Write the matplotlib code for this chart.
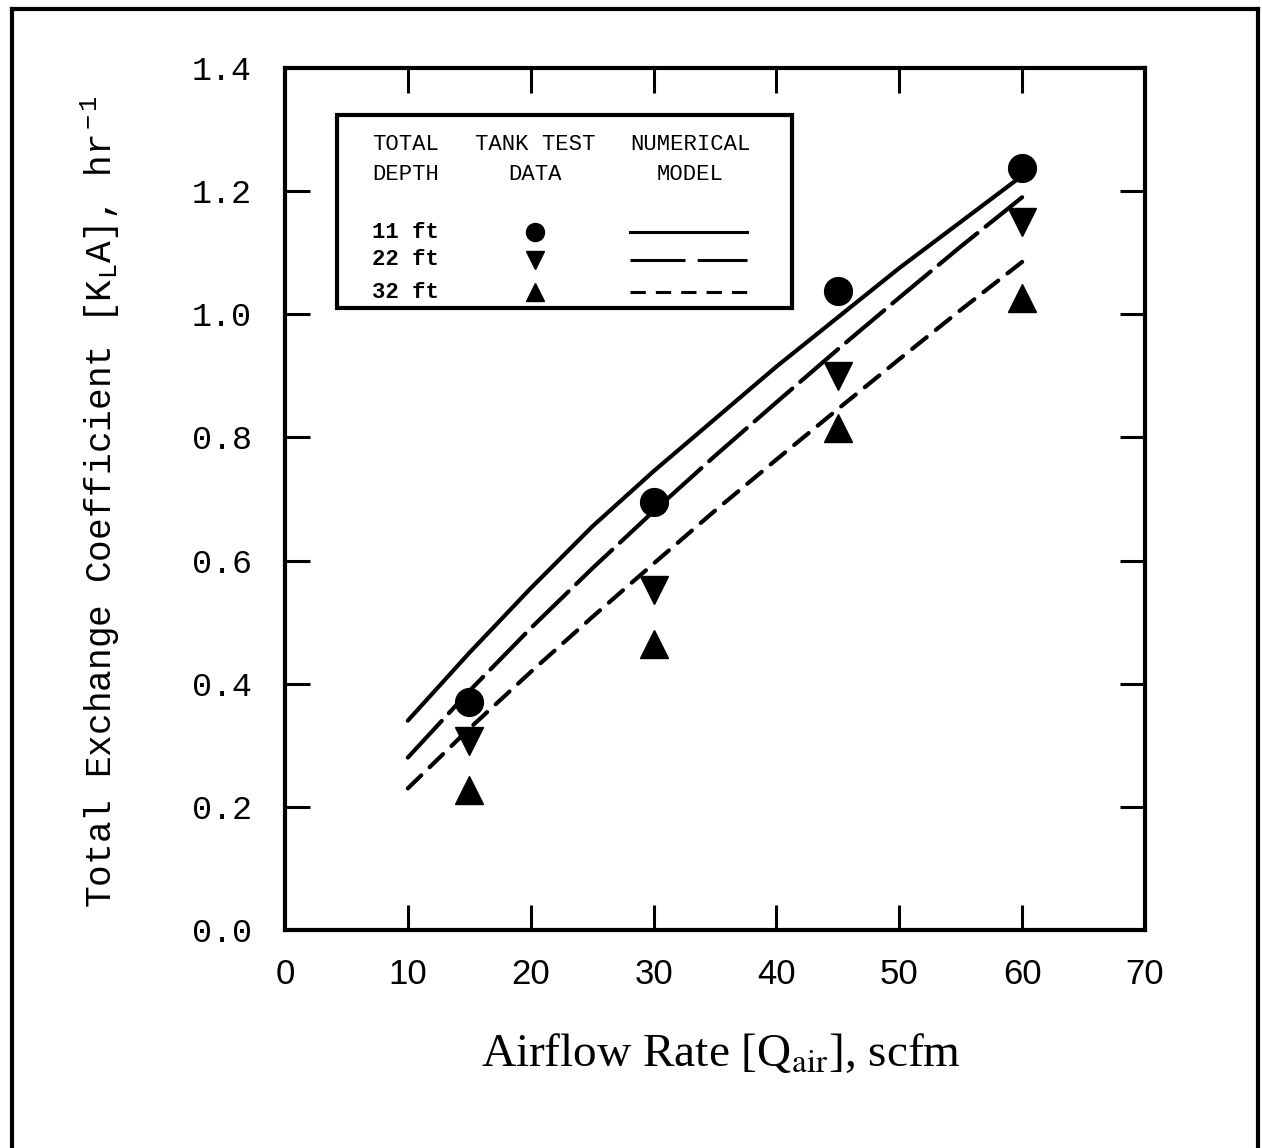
import matplotlib
matplotlib.use("Agg")
import matplotlib.pyplot as plt
from matplotlib.patches import Rectangle
from matplotlib.lines import Line2D

# test data (tank test), airflow in scfm
q_data = [15, 30, 45, 60]
kla_11ft = [0.37, 0.695, 1.038, 1.237]
kla_22ft = [0.307, 0.552, 0.900, 1.150]
kla_32ft = [0.227, 0.464, 0.815, 1.026]

# numerical model curves
q_model = [10, 15, 20, 25, 30, 35, 40, 45, 50, 55, 60]
model_11ft = [0.34, 0.45, 0.555, 0.655, 0.745, 0.83, 0.915, 0.995, 1.075, 1.15, 1.225]
model_22ft = [0.28, 0.388, 0.49, 0.587, 0.68, 0.77, 0.857, 0.943, 1.027, 1.11, 1.19]
model_32ft = [0.23, 0.327, 0.419, 0.508, 0.595, 0.681, 0.764, 0.846, 0.927, 1.007, 1.085]

depths = ["11 ft", "22 ft", "32 ft"]
x_ticks = [0, 10, 20, 30, 40, 50, 60, 70]
y_ticks = [0.0, 0.2, 0.4, 0.6, 0.8, 1.0, 1.2, 1.4]

plt.rcParams['mathtext.fontset'] = 'custom'
plt.rcParams['mathtext.rm'] = 'Liberation Mono'
plt.rcParams['mathtext.it'] = 'Liberation Mono'

fig = plt.figure(figsize=(12.62, 11.48), dpi=100)
ax = fig.add_axes([0.2258, 0.1899, 0.6815, 0.7509])

lw = 3.0
long_dash = (0, (12, 2.5))
short_dash = (0, (4.5, 2.8))

ax.plot(q_model, model_11ft, color='black', lw=lw, ls='-', solid_capstyle='round')
ax.plot(q_model, model_22ft, color='black', lw=lw, ls=long_dash, dash_capstyle='round')
ax.plot(q_model, model_32ft, color='black', lw=lw, ls=short_dash, dash_capstyle='round')

ax.plot(q_data, kla_11ft, 'o', color='black', ms=20, ls='none')
ax.plot(q_data, kla_22ft, 'v', color='black', ms=20, ls='none')
ax.plot(q_data, kla_32ft, '^', color='black', ms=20, ls='none')

ax.set_xlim(0, 70)
ax.set_ylim(0, 1.4)
ax.set_xticks(x_ticks)
ax.set_yticks(y_ticks)
ax.set_xticklabels([str(v) for v in x_ticks], family='Liberation Sans', fontsize=25)
ax.set_yticklabels(['%.1f' % v for v in y_ticks], family='Liberation Mono', fontsize=24)
ax.tick_params(direction='in', length=18, width=2.2, top=True, right=True)
ax.tick_params(axis='x', pad=20)
ax.tick_params(axis='y', pad=24)
# no tick marks at the corners
for t in ax.xaxis.get_major_ticks():
    if t.get_loc() in (0, 70):
        t.tick1line.set_visible(False)
        t.tick2line.set_visible(False)
for t in ax.yaxis.get_major_ticks():
    if t.get_loc() in (0.0, 1.4):
        t.tick1line.set_visible(False)
        t.tick2line.set_visible(False)
for s in ax.spines.values():
    s.set_linewidth(3)

ax.set_xlabel(r'Airflow Rate [Q$_{\rm air}$], scfm', family='Liberation Serif', fontsize=34,
              math_fontfamily='stix')
ax.xaxis.set_label_coords(0.507, -0.118)
ax.set_ylabel(r'Total Exchange Coefficient [K$_{\rm L}$A], hr$^{\rm -1}$', family='Liberation Mono', fontsize=26)
ax.yaxis.set_label_coords(-0.190, 0.497)

# legend table drawn by hand
tr = ax.transAxes
ax.add_patch(Rectangle((0.0605, 0.7216), 0.529, 0.2239, transform=tr, fill=False, lw=3, color='black'))
lf = dict(transform=tr, family='Liberation Mono', fontsize=16, va='center')
ax.text(0.101, 0.9107, 'TOTAL', **lf)
ax.text(0.101, 0.8759, 'DEPTH', **lf)
ax.text(0.2907, 0.9107, 'TANK TEST', ha='center', **lf)
ax.text(0.2907, 0.8759, 'DATA', ha='center', **lf)
ax.text(0.471, 0.9107, 'NUMERICAL', ha='center', **lf)
ax.text(0.471, 0.8759, 'MODEL', ha='center', **lf)
rows_y = [0.8097, 0.7773, 0.7401]
markers = ['o', 'v', '^']
styles = ['-', (0, (18, 4)), (0, (5, 3.3))]
for d, yy, m, st in zip(depths, rows_y, markers, styles):
    ax.text(0.101, yy, d, fontweight='bold', **lf)
    ax.plot([0.2907], [yy], m, color='black', ms=13, transform=tr)
    ax.add_line(Line2D([0.401, 0.537], [yy, yy], color='black', lw=2.2, ls=st, transform=tr))

# outer frame of the scanned figure
fig.add_artist(Line2D([0.0095, 0.0095], [0.0, 0.9922], color='black', lw=3, transform=fig.transFigure))
fig.add_artist(Line2D([0.0095, 0.9968], [0.9922, 0.9922], color='black', lw=3, transform=fig.transFigure))
fig.add_artist(Line2D([0.9968, 0.9968], [0.0, 0.9922], color='black', lw=3, transform=fig.transFigure))

fig.savefig('out.png', dpi=100)
